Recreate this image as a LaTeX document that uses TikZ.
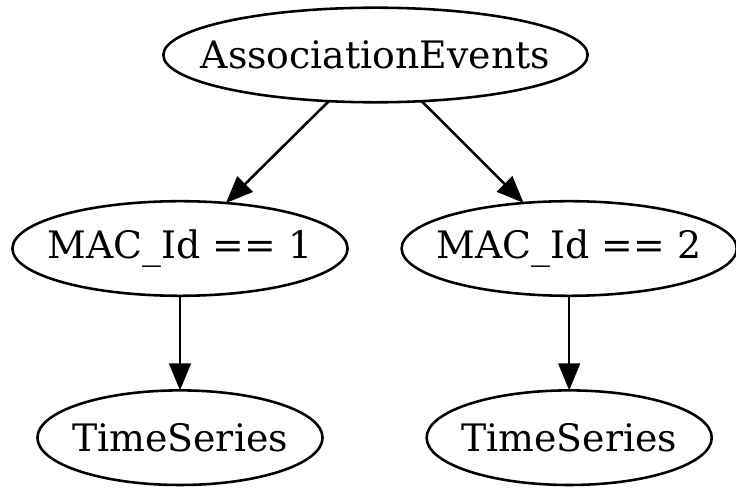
\documentclass[tikz,border=0pt]{standalone}
\usepackage{fontspec}
\setmainfont{DejaVu Serif}
\usetikzlibrary{shapes.geometric,arrows.meta,positioning}
\tikzset{
  evt/.style = {ellipse, draw=black, line width=0.95pt, inner sep=0pt, outer sep=0pt,
                minimum height=35pt, font=\fontsize{14}{17}\selectfont,
                execute at begin node={\hbox to 0pt\bgroup\hss},
                execute at end node={\hss\egroup}},
  fl/.style  = {-{Triangle[length=10pt,width=8pt]}, draw=black, line width=0.95pt},
}
\begin{document}
\begin{tikzpicture}[x=0.37pt, y=-0.37pt, node distance=35pt]
  \useasboundingbox (0,0) rectangle (736,489);
  \node[evt, minimum width=157pt] (assoc) at (375.5,55) {AssociationEvents};
  \node[evt, minimum width=124pt] (mac1) at (180,248.5) {MAC\_Id == 1};
  \node[evt, minimum width=124pt, right=20pt of mac1] (mac2) {MAC\_Id == 2};
  \node[evt, minimum width=105.5pt, below=of mac1] (ts1) {TimeSeries};
  \node[evt, minimum width=105.5pt, below=of mac2] (ts2) {TimeSeries};

  \draw[fl] (assoc) -- (mac1);
  \draw[fl] (assoc) -- (mac2);
  \draw[fl] (mac1) -- (ts1);
  \draw[fl] (mac2) -- (ts2);
\end{tikzpicture}
\end{document}
